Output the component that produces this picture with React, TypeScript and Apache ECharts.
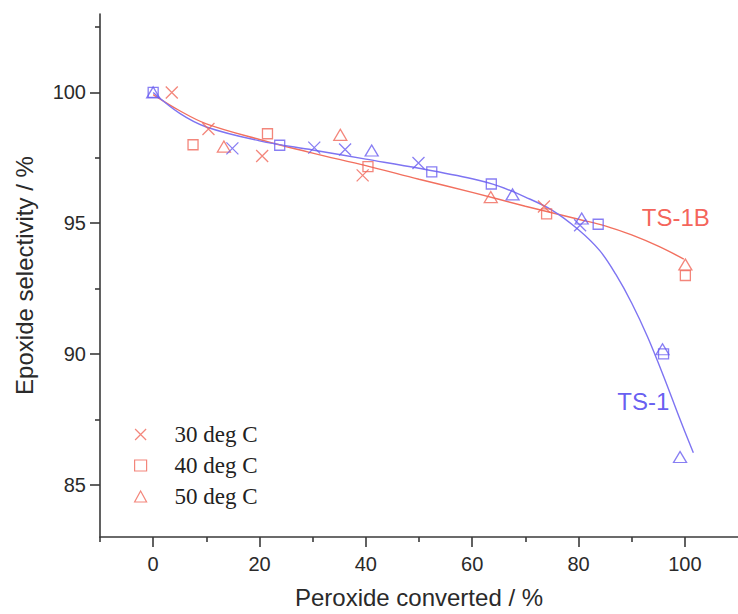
import React, { useEffect, useRef } from "react";
import * as echarts from "echarts";

// Axis ticks
const xMajorTicks = [0, 20, 40, 60, 80, 100];
const xMinorTicks = [-10, 10, 30, 50, 70, 90];
const yMajorTicks = [85, 90, 95, 100];
const yMinorTicks = [87.5, 92.5, 97.5, 102.5];

const legendNames = ["30 deg C", "40 deg C", "50 deg C"];

// TS-1B (red) measured points
const ts1b30 = [[3.5, 100], [10.4, 98.6], [20.5, 97.57], [39.4, 96.83], [73.5, 95.64]];
const ts1b40 = [[7.5, 98.0], [21.5, 98.42], [40.4, 97.16], [74.0, 95.36], [100.1, 93.0]];
const ts1b50 = [[13.3, 97.93], [35.2, 98.38], [63.5, 96.0], [100.1, 93.42]];

// TS-1 (blue) measured points
const ts130 = [[14.9, 97.86], [30.3, 97.89], [36.1, 97.82], [49.9, 97.3], [80.3, 94.92]];
const ts140 = [[0, 100], [23.8, 97.98], [52.4, 96.96], [63.6, 96.5], [83.7, 94.96], [96.0, 90.0]];
const ts150 = [[0, 100], [41.1, 97.78], [67.6, 96.1], [80.6, 95.18], [95.8, 90.18], [99.1, 86.06]];

// Fitted curves
const ts1bCurve = [
  [0, 99.92], [5, 99.3], [10, 98.8], [20, 98.2], [30, 97.68], [40, 97.2], [50, 96.68],
  [60, 96.18], [70, 95.65], [80, 95.15], [85, 94.9], [90, 94.55], [95, 94.12], [99.8, 93.63],
];
const ts1Curve = [
  [0, 100], [5, 99.2], [10, 98.68], [20, 98.15], [30, 97.8], [40, 97.45], [50, 97.1],
  [60, 96.7], [65, 96.42], [70, 96.0], [75, 95.5], [80, 94.75], [84, 93.95],
  [87, 93.05], [90, 91.95], [93, 90.65], [96, 89.15], [99, 87.55], [101.6, 86.22],
];

const curveLabels = [
  { name: "TS-1B", x: 98.3, y: 95.2, color: "#f23a2e" },
  { name: "TS-1", x: 92.2, y: 88.2, color: "#4034ee" },
];

const RED = "#f0685a";
const BLUE = "#6a5ef0";
const RED_LINE = "#f2705f";
const BLUE_LINE = "#7e74f2";
const CROSS = "path://M0,0L10,10M0,10L10,0";
const symbols = [CROSS, "rect", "triangle"];
const symbolSizes: any[] = [[12, 12], [10, 10], [13, 11]];

function markers(name: string, idx: number, color: string, data: number[][]) {
  return {
    type: "scatter",
    name,
    xAxisIndex: 0,
    yAxisIndex: 0,
    symbol: symbols[idx],
    symbolSize: symbolSizes[idx],
    data,
    itemStyle: { color: "rgba(0,0,0,0)", borderColor: color, borderWidth: 1.3 },
    z: 4,
    silent: true,
  };
}

export default function App() {
  const ref = useRef<HTMLDivElement>(null);
  useEffect(() => {
    document.body.style.margin = "0";
    const chart = echarts.init(ref.current!, null, { renderer: "svg" });
    const axisColor = "#3a3a3a";
    const labelStyle = { color: "#2a2a2a", fontSize: 20, fontFamily: "Liberation Sans" };
    chart.setOption({
      animation: false,
      backgroundColor: "#ffffff",
      grid: { left: 100, top: 14, right: -8, bottom: 75 },
      legend: {
        orient: "vertical",
        left: 134,
        top: 422,
        padding: 0,
        itemGap: 6,
        itemWidth: 12,
        itemHeight: 11,
        selectedMode: false,
        textStyle: {
          fontFamily: "Liberation Serif",
          fontSize: 23,
          color: "#222",
          lineHeight: 25,
          padding: [0, 0, 0, 23],
        },
        data: legendNames.map((n, i) => ({
          name: n,
          icon: symbols[i],
          itemStyle: { color: "rgba(0,0,0,0)", borderColor: RED, borderWidth: 1.2 },
        })),
      },
      xAxis: [
        {
          type: "value",
          min: -10,
          max: 110,
          position: "bottom",
          axisLine: { show: true, onZero: false, lineStyle: { color: axisColor, width: 1.6 } },
          axisTick: { show: true, customValues: xMajorTicks, length: 10, lineStyle: { color: axisColor, width: 1.6 } },
          axisLabel: { show: true, customValues: xMajorTicks, margin: 17, ...labelStyle },
          splitLine: { show: false },
          name: "Peroxide converted / %",
          nameLocation: "middle",
          nameGap: 48,
          nameTextStyle: { fontSize: 24, fontFamily: "Liberation Sans", color: "#2a2a2a" },
        },
        {
          type: "value",
          min: -10,
          max: 110,
          position: "bottom",
          axisLine: { show: false, onZero: false },
          axisTick: { show: true, customValues: xMinorTicks, length: 5, lineStyle: { color: axisColor, width: 1.6 } },
          axisLabel: { show: false },
          splitLine: { show: false },
        },
      ],
      yAxis: [
        {
          type: "value",
          min: 83,
          max: 103,
          position: "left",
          axisLine: { show: true, onZero: false, lineStyle: { color: axisColor, width: 1.6 } },
          axisTick: { show: true, customValues: yMajorTicks, length: 10, lineStyle: { color: axisColor, width: 1.6 } },
          axisLabel: { show: true, customValues: yMajorTicks, margin: 14, ...labelStyle },
          splitLine: { show: false },
          name: "Epoxide selectivity / %",
          nameLocation: "middle",
          nameGap: 64,
          nameTextStyle: { fontSize: 24, fontFamily: "Liberation Sans", color: "#2a2a2a" },
        },
        {
          type: "value",
          min: 83,
          max: 103,
          position: "left",
          axisLine: { show: false, onZero: false },
          axisTick: { show: true, customValues: yMinorTicks, length: 5, lineStyle: { color: axisColor, width: 1.6 } },
          axisLabel: { show: false },
          splitLine: { show: false },
        },
      ],
      series: [
        {
          type: "line",
          name: "TS-1B fit",
          data: ts1bCurve,
          smooth: 0.35,
          showSymbol: false,
          lineStyle: { color: RED_LINE, width: 1.4 },
          z: 2,
          silent: true,
        },
        {
          type: "line",
          name: "TS-1 fit",
          data: ts1Curve,
          smooth: 0.35,
          showSymbol: false,
          lineStyle: { color: BLUE_LINE, width: 1.4 },
          z: 2,
          silent: true,
        },
        markers(legendNames[0], 0, RED, ts1b30),
        markers(legendNames[1], 1, RED, ts1b40),
        markers(legendNames[2], 2, RED, ts1b50),
        markers(legendNames[0], 0, BLUE, ts130),
        markers(legendNames[1], 1, BLUE, ts140),
        markers(legendNames[2], 2, BLUE, ts150),
        {
          type: "scatter",
          name: "labels",
          symbolSize: 1,
          itemStyle: { color: "rgba(0,0,0,0)" },
          silent: true,
          data: curveLabels.map((l) => ({
            value: [l.x, l.y],
            name: l.name,
            label: {
              show: true,
              position: "inside",
              formatter: "{b}",
              color: l.color,
              fontSize: 24,
              fontFamily: "Liberation Sans",
            },
          })),
        },
      ],
    });
    return () => chart.dispose();
  }, []);
  return <div ref={ref} style={{ width: 738, height: 614 }} />;
}
